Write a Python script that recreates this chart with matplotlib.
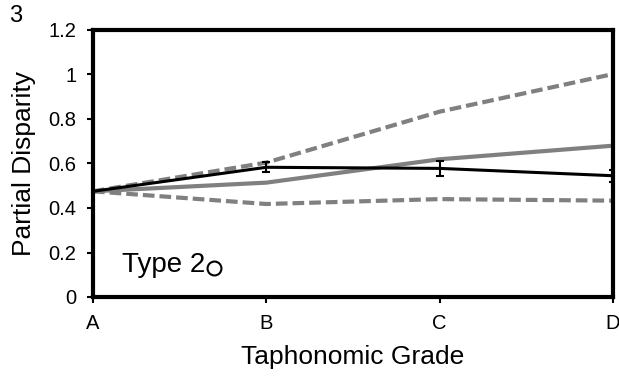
import matplotlib
matplotlib.use("Agg")
import matplotlib.pyplot as plt

plt.rcParams['font.family'] = ['Liberation Sans', 'DejaVu Sans']

grades = ["A", "B", "C", "D"]
observed = [0.475, 0.583, 0.578, 0.545]
observed_err = [0.0, 0.022, 0.035, 0.027]
expected = [0.475, 0.514, 0.619, 0.680]
upper = [0.475, 0.604, 0.833, 1.002]
lower = [0.475, 0.418, 0.440, 0.433]

gray = "#808080"
x = range(len(grades))

fig = plt.figure(figsize=(6.19, 3.79), dpi=100)
ax = fig.add_axes([93 / 619, 1 - 297 / 379, 520 / 619, 267 / 379])

ax.plot(x, upper, color=gray, lw=3, dashes=(2.8, 1.2))
ax.plot(x, lower, color=gray, lw=3, dashes=(2.8, 1.2))
ax.plot(x, expected, color=gray, lw=3)
ax.errorbar(x, observed, yerr=observed_err, color="black", lw=2.2,
            elinewidth=1.5, capsize=3, capthick=1.5)

ax.set_xlim(0, 3)
ax.set_ylim(0, 1.2)
ax.set_xticks(list(x))
ax.set_xticklabels(grades)
ax.set_yticks([0, 0.2, 0.4, 0.6, 0.8, 1.0, 1.2])
ax.set_yticklabels(["0", "0.2", "0.4", "0.6", "0.8", "1", "1.2"])
ax.tick_params(labelsize=14.5, width=1.5, length=4, direction="out")
ax.tick_params(axis="y", pad=8)
ax.tick_params(axis="x", pad=8)
for s in ax.spines.values():
    s.set_linewidth(3)

ax.set_xlabel("Taphonomic Grade", fontsize=19, labelpad=9)
ax.set_ylabel("Partial Disparity", fontsize=19, labelpad=9)

# legend-like label with open circle
ax.text(0.055, 0.12, "Type 2", transform=ax.transAxes, fontsize=20,
        va="center", ha="left")
ax.plot([0.232], [0.11], marker="o", ms=10, mfc="white", mec="black",
        mew=1.5, transform=ax.transAxes, clip_on=False)
fig.text(16 / 619, 1 - 16 / 379, "3", fontsize=17, va="center", ha="center")

fig.savefig("out.png", dpi=100)
